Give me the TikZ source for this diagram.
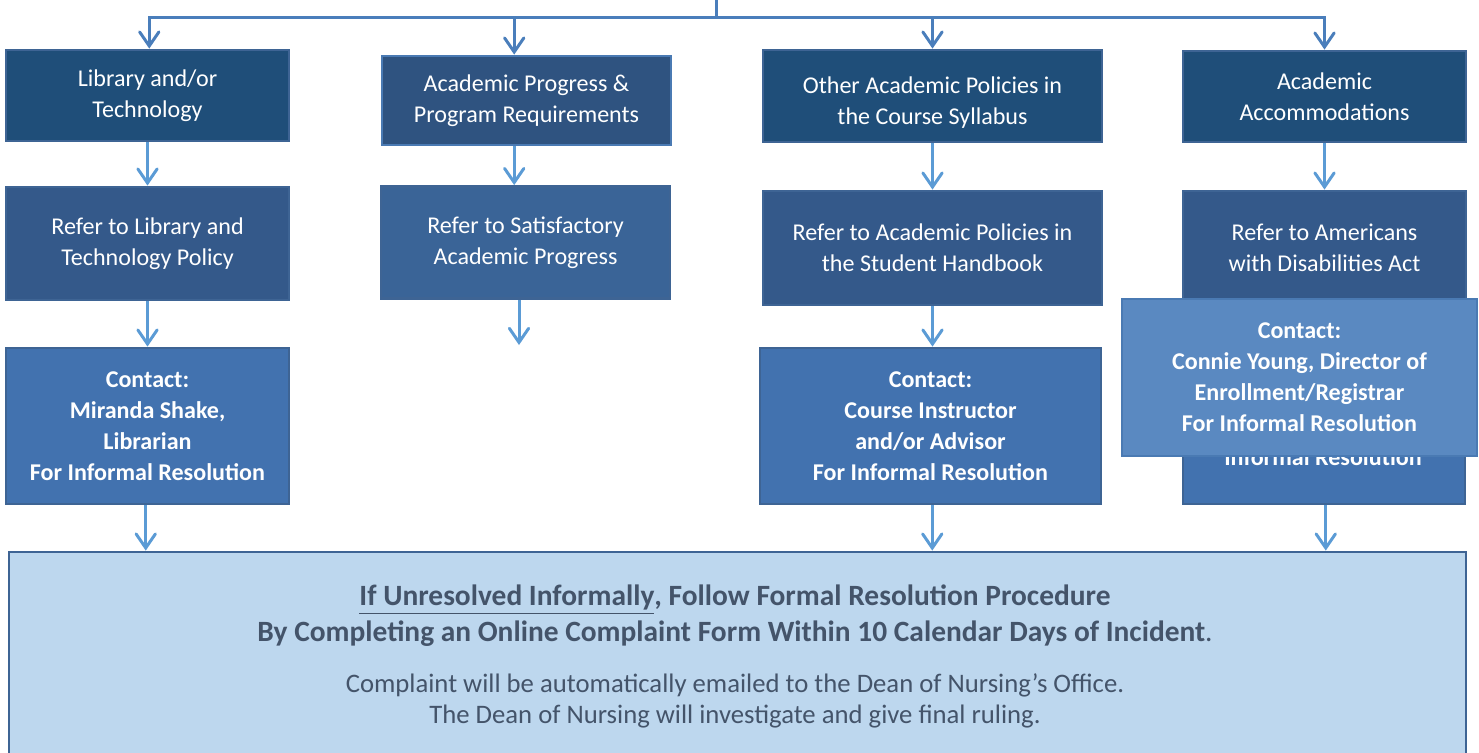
\documentclass[tikz,border=0pt]{standalone}
\usepackage{fontspec}
\setmainfont{Carlito}
\usetikzlibrary{arrows.meta}
\definecolor{topfill}{HTML}{1F4E79}
\definecolor{progfill}{HTML}{2F5380}
\definecolor{midfill}{HTML}{34598A}
\definecolor{progmid}{HTML}{3A6497}
\definecolor{lowfill}{HTML}{4272AF}
\definecolor{notefill}{HTML}{5A89C1}
\definecolor{finalfill}{HTML}{BDD7EE}
\definecolor{boxline}{HTML}{3E6494}
\definecolor{noteline}{HTML}{4A7AB3}
\definecolor{finaltext}{HTML}{44546A}
\definecolor{barblue}{HTML}{4A7EBB}
\definecolor{arrowblue}{HTML}{5B9BD5}

\begin{document}
\begin{tikzpicture}[x=0.02cm, y=-0.02cm,
	box/.style={draw=boxline, line width=1.6pt, text=white, align=center, inner sep=2pt,
		font=\fontsize{13.7}{17.6}\selectfont},
	contact/.style={box, fill=lowfill, font=\fontsize{13.7}{17.6}\selectfont\bfseries},
	boxsize/.style 2 args={minimum width=#1*0.02cm, minimum height=#2*0.02cm},
	flow/.style={arrowblue, line width=1.7pt, -{Straight Barb[length=8pt, width=11pt, line cap=round]}},
	barflow/.style={flow, draw=barblue}]
	\useasboundingbox (0,0) rectangle (1479,752);
	\clip (0,0) rectangle (1479,752);
	% first row
	\node[box, fill=topfill, boxsize={283}{91}] (lib1) at (147.5,95.5) {Library and/or\\Technology};
	\node[box, fill=progfill, draw=noteline, boxsize={289}{89}] (prog1) at (526.5,100.5) {Academic Progress \&\\Program Requirements};
	\node[box, fill=topfill, boxsize={339}{92}] (pol1) at (932.5,96) {};
	\node[text=white, align=center, font=\fontsize{13.7}{17.6}\selectfont] (pol1text) at (932.5,102.5) {Other Academic Policies in\\the Course Syllabus};
	\node[box, fill=topfill, boxsize={283}{91}] (acc1) at (1324.5,96.5) {Academic\\Accommodations};
	% second row
	\node[box, fill=midfill, boxsize={283}{113}] (lib2) at (147.5,243.5) {Refer to Library and\\Technology Policy};
	\node[box, fill=progmid, boxsize={289}{112}] (prog2) at (525.5,242.5) {Refer to Satisfactory\\Academic Progress};
	\node[box, fill=midfill, boxsize={339}{114}] (pol2) at (932.5,248) {Refer to Academic Policies in\\the Student Handbook};
	\node[box, fill=midfill, boxsize={283}{114}] (acc2) at (1324.5,248) {Refer to Americans\\with Disabilities Act};
	% third row
	\node[contact, boxsize={283}{156}] (lib3) at (147.5,426) {Contact:\\Miranda Shake,\\Librarian\\For Informal Resolution};
	\node[contact, boxsize={341}{156}] (pol3) at (930.5,426) {Contact:\\Course Instructor\\ and/or Advisor\\For Informal Resolution};
	\node[contact, boxsize={282}{156}] (acc3) at (1324,426) {};
	\node[text=white, font=\fontsize{13.7}{17.6}\selectfont\bfseries, anchor=base] (acc3text) at (1323,465) {Informal Resolution};
	% bottom
	\node[draw=boxline, line width=1.6pt, fill=finalfill, boxsize={1457}{256}] (final) at (737.5,680) {};
	\node[text=finaltext, align=center, font=\fontsize{16.75}{20.4}\selectfont] (rule) at (735,616)
		{\textbf{\underline{If Unresolved Informally}, Follow Formal Resolution Procedure}\\
		 \textbf{By Completing an Online Complaint Form Within 10 Calendar Days of Incident}.};
	\node[text=finaltext, align=center, font=\fontsize{15.2}{17.6}\selectfont] (mail) at (735,701)
		{Complaint will be automatically emailed to the Dean of Nursing’s Office.\\
		 The Dean of Nursing will investigate and give final ruling.};
	% connectors
	\coordinate (top) at (716,0);
	\coordinate (bar) at (716,17);
	\coordinate (progend) at (519,345);
	\draw[barblue, line width=1.7pt] (top) -- (bar);
	\draw[barflow] (bar) -| ([xshift=1pt]lib1.north);
	\draw[barflow] (bar) -| ([xshift=-7pt]prog1.north);
	\draw[barflow] (bar) -| (pol1.north);
	\draw[barflow] (bar) -| (acc1.north);
	\draw[flow] (lib1) -- (lib2);
	\draw[flow] ([xshift=-7pt]prog1.south) -- ([xshift=-7pt]prog1.south |- prog2.north);
	\draw[flow] (pol1) -- (pol2);
	\draw[flow] (acc1) -- (acc2);
	\draw[flow] (lib2) -- (lib3);
	\draw[flow] (prog2.south -| progend) -- (progend);
	\draw[flow] (pol2) -- (pol2.south |- pol3.north);
	\draw[flow] (acc2) -- (acc3);
	\draw[flow] ([xshift=-1pt]lib3.south) -- ([xshift=-1pt]lib3.south |- final.north);
	\draw[flow] ([xshift=1pt]pol3.south) -- ([xshift=1pt]pol3.south |- final.north);
	\draw[flow] ([xshift=1pt]acc3.south) -- ([xshift=1pt]acc3.south |- final.north);
	% note laid over the last column
	\node[contact, fill=notefill, draw=noteline, boxsize={355}{157}] (accnote) at (1299.5,377.5)
		{Contact:\\Connie Young, Director of\\Enrollment/Registrar\\For Informal Resolution};
\end{tikzpicture}
\end{document}
